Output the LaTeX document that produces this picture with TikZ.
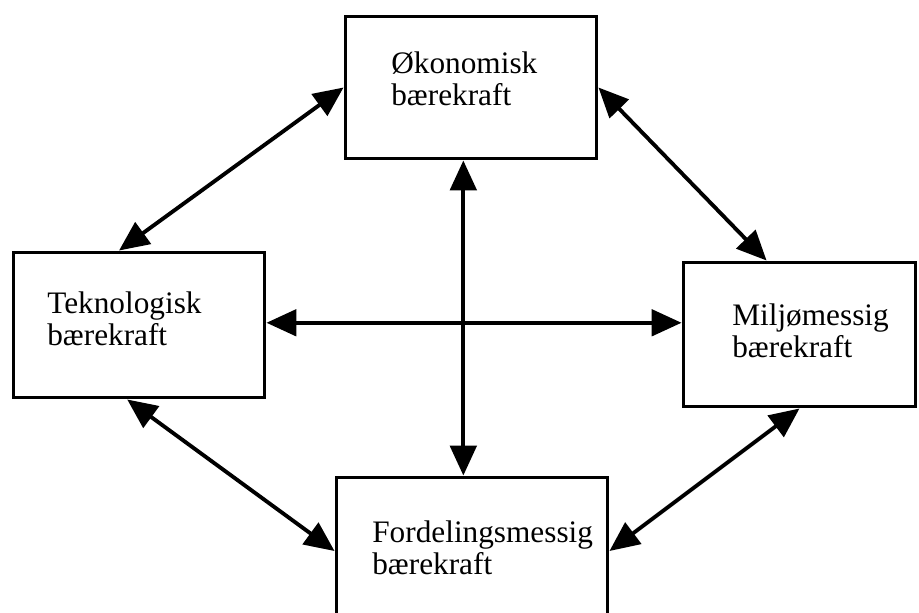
\documentclass[tikz,border=0pt]{standalone}
\usepackage{fontspec}
\setmainfont{Liberation Serif}
\usetikzlibrary{arrows.meta}
\tikzset{
    BX/.style ={rectangle, draw, line width=1.7pt, inner sep=0pt},
    TX/.style ={anchor=north west, align=left, inner sep=0pt, font=\fontsize{17.8}{18.5}\selectfont},
    PIL/.style ={line width=2.2pt, arrows={Triangle[length=17pt,width=15pt]-Triangle[length=17pt,width=15pt]}}}
\begin{document}
\begin{tikzpicture}[x=0.02cm,y=-0.02cm]
        \clip (0,0) rectangle (919,612);
        % boxes
        \node[BX, minimum width=5.04cm, minimum height=2.86cm] (oko) at (471,87.5) {};
        \node[BX, minimum width=5.04cm, minimum height=2.92cm] (tek) at (139,325) {};
        \node[BX, minimum width=4.66cm, minimum height=2.9cm] (mil) at (799.5,334.5) {};
        \node[BX, minimum width=5.44cm, minimum height=2.96cm] (for) at (472,551) {};
        % texts
        \node[TX] (okoT) at (391,51) {Økonomisk\\bærekraft};
        \node[TX] (tekT) at (47,291) {Teknologisk\\bærekraft};
        \node[TX] (milT) at (732,303) {Miljømessig\\bærekraft};
        \node[TX] (forT) at (372,520) {Fordelingsmessig\\bærekraft};
        % arrows
        \draw[PIL] (oko.west) -- (tek.105);
        \draw[PIL] (oko.east) -- (mil.114);
        \draw[PIL] (tek.1) -- (tek.1 -| mil.west);
        \draw[PIL] (oko.264) -- (oko.264 |- for.north);
        \draw[PIL] (tek.261) -- (for.west);
        \draw[PIL] (mil.south) -- (for.east);
\end{tikzpicture}
\end{document}
